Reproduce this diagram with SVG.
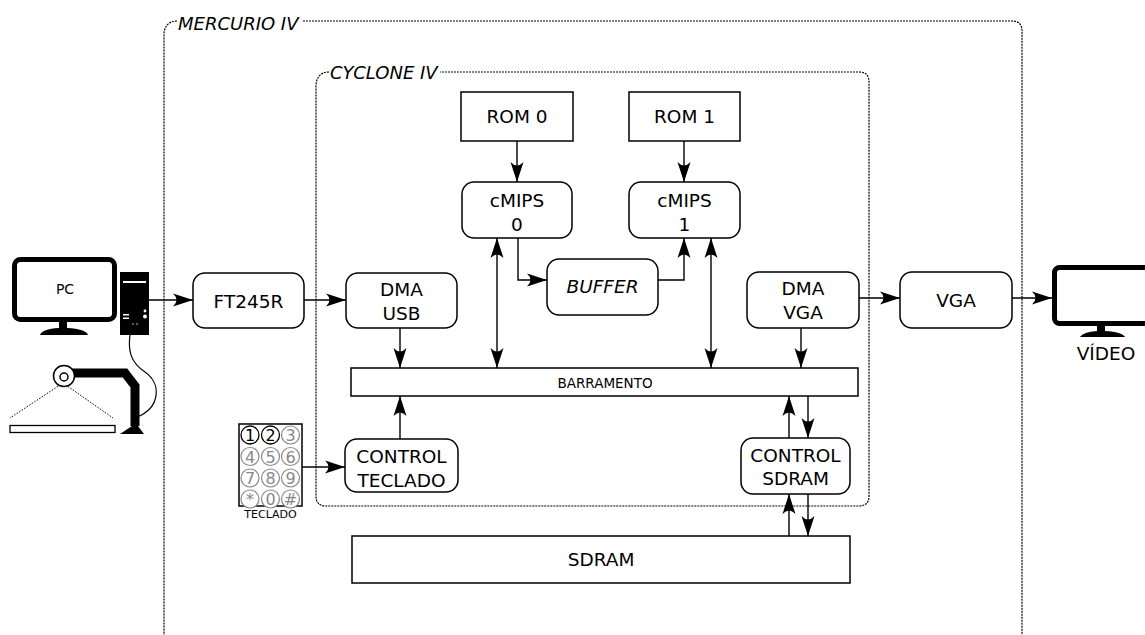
<svg xmlns="http://www.w3.org/2000/svg" width="1145" height="635" viewBox="0 0 1145 635">
  <style>
    text { font-family: "DejaVu Sans", "Liberation Sans", sans-serif; fill: #000; }
    .lbl { font-size: 18.5px; text-anchor: middle; }
    .ital { font-style: oblique; }
    .box { fill: #fff; stroke: #000; stroke-width: 1.5; }
    .frame { fill: none; stroke: #000; stroke-width: 1.2; stroke-dasharray: 2 1; }
    .wire { fill: none; stroke: #000; stroke-width: 1.4; }
    .key { fill: #fff; stroke: #888; stroke-width: 1.2; }
    .keyt { font-size: 16px; text-anchor: middle; fill: #888; }
  </style>
  <defs>
    <marker id="ah" viewBox="-21 -8 22 16" refX="0" refY="0" markerWidth="22" markerHeight="16" markerUnits="userSpaceOnUse" orient="auto-start-reverse">
      <path d="M0,0 L-20,-6.5 Q-13,0 -20,6.5 Z" fill="#000"/>
    </marker>
  </defs>

  <rect width="1145" height="635" fill="#fff"/>

  <!-- board and FPGA frames -->
  <g id="mercurio">
    <path class="frame" d="M177,21 C168,21 164,27 164,35 V645 M303,21 H1012 Q1022,21 1022,31 V645"/>
    <text x="178" y="30" class="ital" style="font-size:18px">MERCURIO IV</text>
  </g>
  <g id="cyclone">
    <path class="frame" d="M329,72 C320,72 316,78 316,86 V496 Q316,506 326,506 H859 Q869,506 869,496 V82 Q869,72 859,72 H440"/>
    <text x="330" y="79" class="ital" style="font-size:18px">CYCLONE IV</text>
  </g>

  <!-- connectors -->
  <g id="connectors" class="wire">
    <path d="M517,141 V182" marker-end="url(#ah)"/>
    <path d="M684,141 V182" marker-end="url(#ah)"/>
    <path d="M518,238 V280 H547" marker-end="url(#ah)"/>
    <path d="M658,280 H684 V238" marker-end="url(#ah)"/>
    <path d="M497,238 V368" marker-start="url(#ah)" marker-end="url(#ah)"/>
    <path d="M711,238 V368" marker-start="url(#ah)" marker-end="url(#ah)"/>
    <path d="M149,300 H193" marker-end="url(#ah)"/>
    <path d="M304,300 H346" marker-end="url(#ah)"/>
    <path d="M400,328 V368" marker-end="url(#ah)"/>
    <path d="M859,298 H900" marker-end="url(#ah)"/>
    <path d="M1012,298 H1052" marker-end="url(#ah)"/>
    <path d="M801,328 V368" marker-end="url(#ah)"/>
    <path d="M400,439 V396" marker-end="url(#ah)"/>
    <path d="M302,467 H345" marker-end="url(#ah)"/>
    <path d="M789,438 V396" marker-end="url(#ah)"/>
    <path d="M808,396 V438" marker-end="url(#ah)"/>
    <path d="M789,536 V494" marker-end="url(#ah)"/>
    <path d="M808,494 V536" marker-end="url(#ah)"/>
  </g>

  <!-- nodes -->
  <g id="rom0">
    <rect class="box" x="461" y="92" width="112" height="49"/>
    <text class="lbl" x="517" y="123">ROM 0</text>
  </g>
  <g id="rom1">
    <rect class="box" x="629" y="92" width="111" height="49"/>
    <text class="lbl" x="684.5" y="123">ROM 1</text>
  </g>
  <g id="cmips0">
    <rect class="box" x="462" y="182" width="110" height="56" rx="12"/>
    <text class="lbl" x="517" y="207">cMIPS</text>
    <text class="lbl" x="517" y="231">0</text>
  </g>
  <g id="cmips1">
    <rect class="box" x="629" y="182" width="111" height="56" rx="12"/>
    <text class="lbl" x="684.5" y="207">cMIPS</text>
    <text class="lbl" x="684.5" y="231">1</text>
  </g>
  <g id="buffer">
    <rect class="box" x="547" y="259" width="111" height="56" rx="12"/>
    <text class="lbl ital" x="602.5" y="293">BUFFER</text>
  </g>
  <g id="ft245r">
    <rect class="box" x="193" y="273" width="111" height="55" rx="12"/>
    <text class="lbl" x="248.5" y="308">FT245R</text>
  </g>
  <g id="dma-usb">
    <rect class="box" x="346" y="273" width="111" height="55" rx="12"/>
    <text class="lbl" x="401.5" y="296">DMA</text>
    <text class="lbl" x="401.5" y="320">USB</text>
  </g>
  <g id="dma-vga">
    <rect class="box" x="747" y="272" width="112" height="56" rx="12"/>
    <text class="lbl" x="803" y="295">DMA</text>
    <text class="lbl" x="803" y="319">VGA</text>
  </g>
  <g id="vga">
    <rect class="box" x="900" y="272" width="112" height="56" rx="12"/>
    <text class="lbl" x="956" y="307">VGA</text>
  </g>
  <g id="barramento">
    <rect class="box" x="351" y="368" width="507" height="28"/>
    <text x="605" y="388" style="font-size:13.5px;text-anchor:middle">BARRAMENTO</text>
  </g>
  <g id="control-teclado">
    <rect class="box" x="345" y="439" width="113" height="53" rx="12"/>
    <text class="lbl" x="401.5" y="463">CONTROL</text>
    <text class="lbl" x="401.5" y="487">TECLADO</text>
  </g>
  <g id="control-sdram">
    <rect class="box" x="741" y="438" width="109" height="56" rx="12"/>
    <text class="lbl" x="795.5" y="462">CONTROL</text>
    <text class="lbl" x="795.5" y="485">SDRAM</text>
  </g>
  <g id="sdram">
    <rect class="box" x="352" y="536" width="498" height="47"/>
    <text class="lbl" x="601" y="566">SDRAM</text>
  </g>

  <!-- host computer -->
  <g id="pc">
    <rect x="14.5" y="259.5" width="100" height="60" rx="6" fill="#fff" stroke="#000" stroke-width="5"/>
    <text x="65" y="294" style="font-size:14px;text-anchor:middle">PC</text>
    <path d="M59,321 H67 V328 Q86,329 88,335 H40 Q42,329 59,328 Z" fill="#000"/>
    <rect x="120" y="272" width="29" height="63" fill="#000"/>
    <rect x="123" y="281" width="23" height="2" fill="#fff"/>
    <rect x="123" y="314" width="6" height="1.5" fill="#fff"/>
    <rect x="123" y="317.5" width="6" height="1.5" fill="#fff"/>
    <circle cx="145" cy="311" r="1.4" fill="#fff"/>
    <circle cx="145" cy="316.5" r="2" fill="#fff"/>
    <circle cx="133" cy="324" r="0.7" fill="#fff"/>
    <circle cx="137" cy="324" r="0.7" fill="#fff"/>
  </g>

  <!-- document camera on its arm -->
  <g id="camera">
    <path d="M130,335 C128,350 130,362 145,372 C162,384 160,408 137,417" fill="none" stroke="#000" stroke-width="1.2"/>
    <path d="M63,383 L10,418 M63,383 L113,418" fill="none" stroke="#000" stroke-width="1" stroke-dasharray="1.5 1.5"/>
    <rect x="10" y="425.5" width="105" height="7" fill="#fff" stroke="#000" stroke-width="1.3"/>
    <path d="M70,373 H125 L135,386 V426" fill="none" stroke="#000" stroke-width="9" stroke-linejoin="miter"/>
    <path d="M120,434 H144 L138,426 H132 Z" fill="#000"/>
    <circle cx="64" cy="376" r="10.5" fill="#fff" stroke="#000" stroke-width="1.5"/>
    <circle cx="64" cy="377" r="4" fill="#fff" stroke="#000" stroke-width="1.5"/>
  </g>

  <!-- keypad -->
  <g id="teclado">
    <rect x="239" y="424" width="63" height="82" fill="#fff" stroke="#000" stroke-width="1.5"/>
    <circle cx="250" cy="435" r="9" fill="#fff" stroke="#000" stroke-width="1.3"/>
    <circle cx="270.5" cy="435" r="9" fill="#fff" stroke="#000" stroke-width="1.3"/>
    <circle class="key" cx="290.5" cy="435" r="9"/>
    <circle class="key" cx="250" cy="456.5" r="9"/>
    <circle class="key" cx="270.5" cy="456.5" r="9"/>
    <circle class="key" cx="290.5" cy="456.5" r="9"/>
    <circle class="key" cx="250" cy="478" r="9"/>
    <circle class="key" cx="270.5" cy="478" r="9"/>
    <circle class="key" cx="290.5" cy="478" r="9"/>
    <circle class="key" cx="250" cy="499" r="9"/>
    <circle class="key" cx="270.5" cy="499" r="9"/>
    <circle class="key" cx="290.5" cy="499" r="9"/>
    <text class="keyt" x="250" y="441" style="fill:#000">1</text>
    <text class="keyt" x="270.5" y="441" style="fill:#000">2</text>
    <text class="keyt" x="290.5" y="441">3</text>
    <text class="keyt" x="250" y="462.5">4</text>
    <text class="keyt" x="270.5" y="462.5">5</text>
    <text class="keyt" x="290.5" y="462.5">6</text>
    <text class="keyt" x="250" y="484">7</text>
    <text class="keyt" x="270.5" y="484">8</text>
    <text class="keyt" x="290.5" y="484">9</text>
    <text class="keyt" x="250" y="505">*</text>
    <text class="keyt" x="270.5" y="505">0</text>
    <text class="keyt" x="290.5" y="505">#</text>
    <text x="270.5" y="518" style="font-size:11px;text-anchor:middle">TECLADO</text>
  </g>

  <!-- video monitor -->
  <g id="video">
    <rect x="1054.5" y="267.5" width="110" height="56" rx="5" fill="#fff" stroke="#000" stroke-width="5"/>
    <path d="M1097,325 H1105 V331 Q1122,332 1125,337 H1080 Q1083,332 1097,331 Z" fill="#000"/>
    <text x="1106" y="360" style="font-size:18.5px;text-anchor:middle">VÍDEO</text>
  </g>
</svg>
